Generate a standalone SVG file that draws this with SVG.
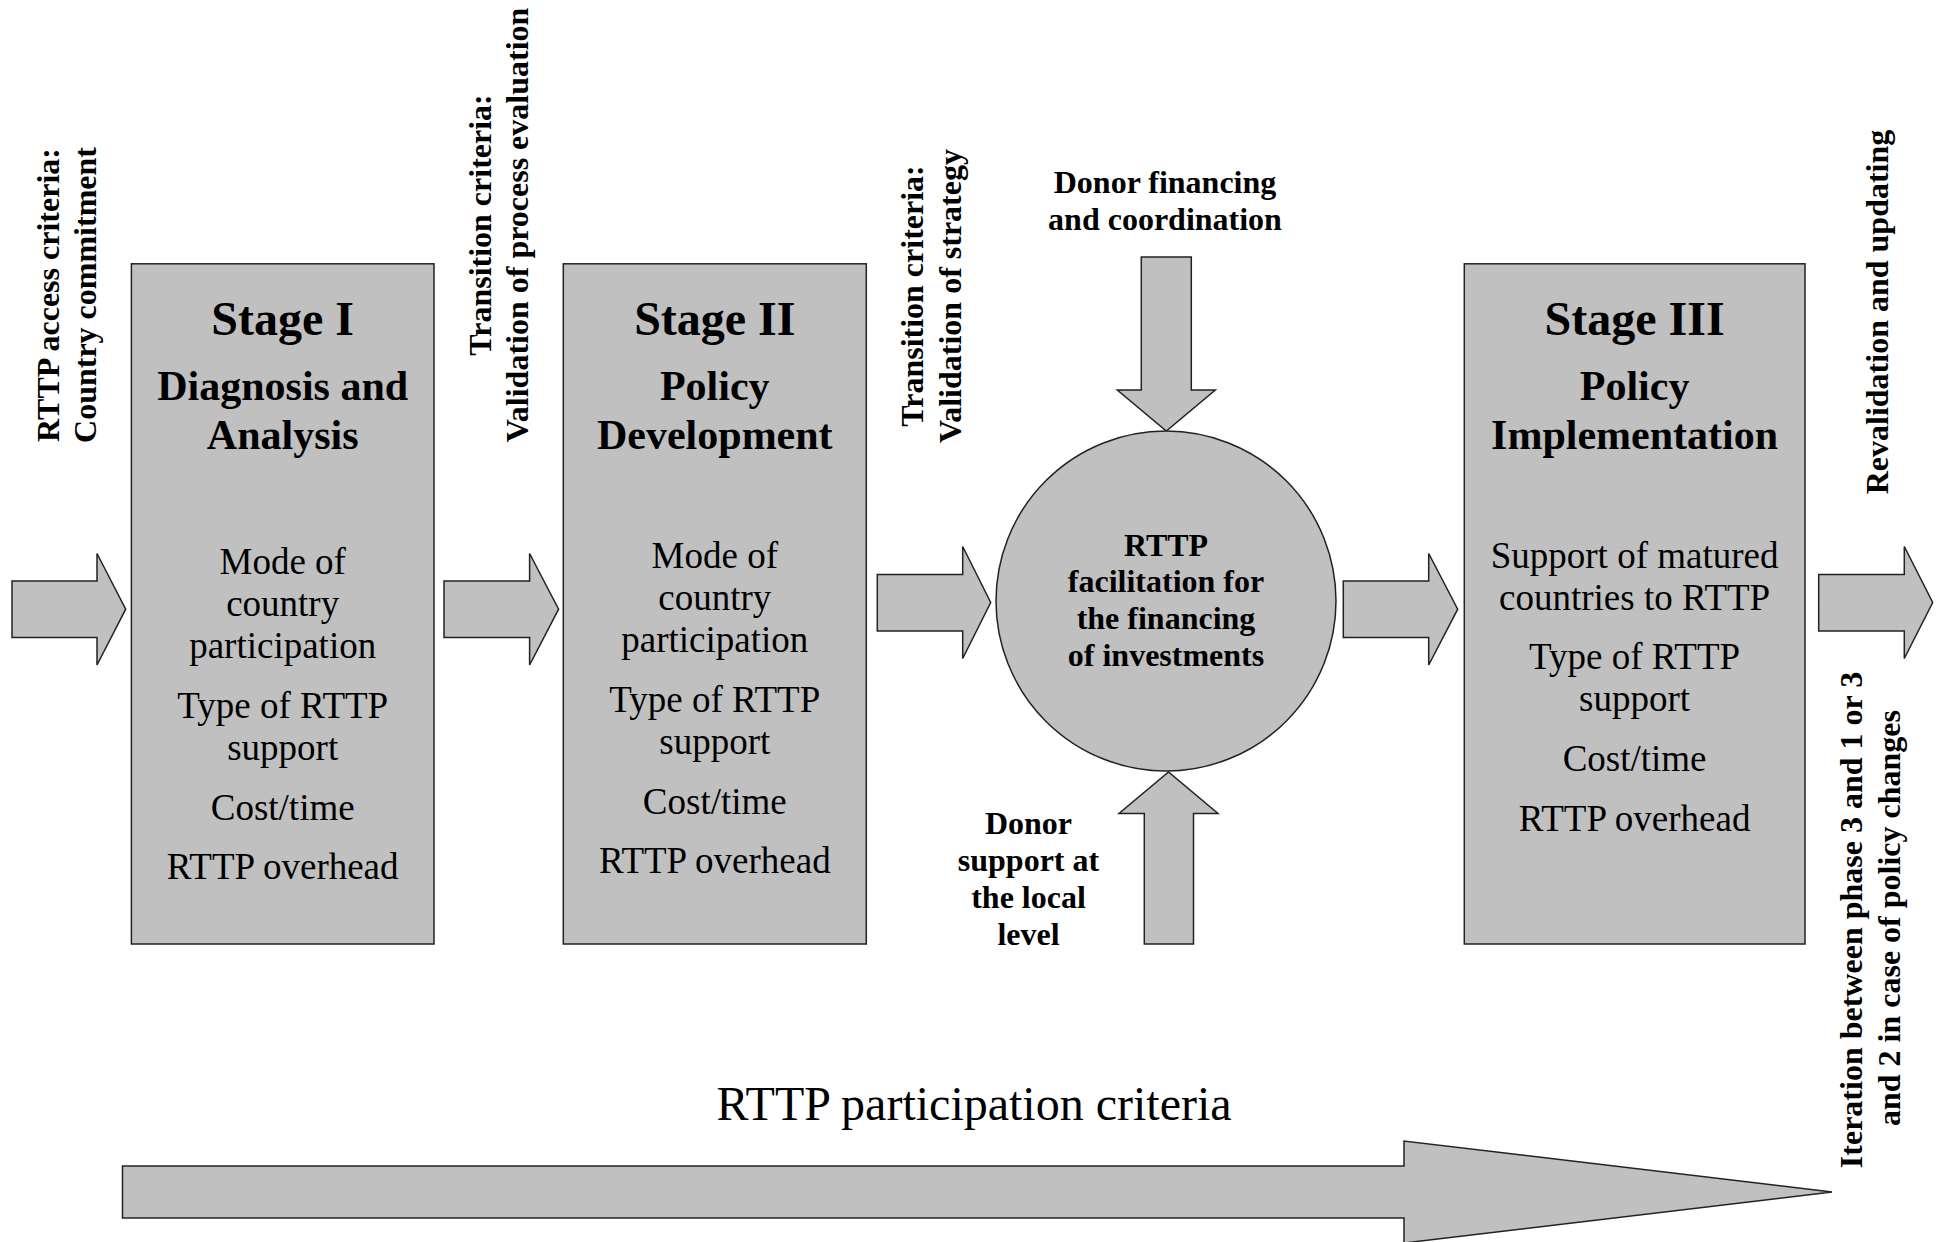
<svg xmlns="http://www.w3.org/2000/svg" width="1942" height="1242" viewBox="0 0 1942 1242">
<style>
.shape{fill:#c0c0c0;stroke:#222;stroke-width:1.5}
.t{font-family:"Liberation Serif","Times New Roman",serif;fill:#000;text-anchor:middle}
.st{font-size:48px;font-weight:bold}
.sub{font-size:42px;font-weight:bold}
.body{font-size:37px}
.lab{font-size:32px;font-weight:bold}
.big{font-size:48px}
</style>
<rect width="1942" height="1242" fill="#fff"/>
<g id="connectors">
<polygon class="shape" points="12,581 97,581 97,553.5 125.7,609.2 97,665 97,637.5 12,637.5"/>
<polygon class="shape" points="444,581 529.6,581 529.6,553.5 558.6,609.2 529.6,665 529.6,637.5 444,637.5"/>
<polygon class="shape" points="877.3,574.5 962.7,574.5 962.7,546.5 990.7,602.5 962.7,658.5 962.7,631 877.3,631"/>
<polygon class="shape" points="1343.3,581 1428.7,581 1428.7,553.5 1457.7,609.2 1428.7,665 1428.7,637.5 1343.3,637.5"/>
<polygon class="shape" points="1818.7,574.5 1904.3,574.5 1904.3,546.5 1932.7,602.5 1904.3,658.5 1904.3,631 1818.7,631"/>
<polygon class="shape" points="1141.3,257 1191.3,257 1191.3,390 1215.3,390 1166.3,431 1117.3,390 1141.3,390"/>
<polygon class="shape" points="1144.3,944 1193.5,944 1193.5,813.5 1218,813.5 1168.5,772 1119,813.5 1144.3,813.5"/>
<polygon class="shape" points="122.5,1166 1404,1166 1404,1141 1832,1192 1404,1243 1404,1218 122.5,1218"/>
</g>
<g id="stage1">
<rect class="shape" x="131.4" y="263.8" width="302.6" height="680.2"/>
<text class="t st" x="282.7" y="335">Stage I</text>
<text class="t sub" x="282.7" y="400">Diagnosis and</text>
<text class="t sub" x="282.7" y="449">Analysis</text>
<text class="t body" x="282.7" y="574">Mode of</text>
<text class="t body" x="282.7" y="616">country</text>
<text class="t body" x="282.7" y="658">participation</text>
<text class="t body" x="282.7" y="718">Type of RTTP</text>
<text class="t body" x="282.7" y="760">support</text>
<text class="t body" x="282.7" y="820">Cost/time</text>
<text class="t body" x="282.7" y="879">RTTP overhead</text>
</g>
<g id="stage2">
<rect class="shape" x="563.3" y="263.8" width="303" height="680.2"/>
<text class="t st" x="714.8" y="335">Stage II</text>
<text class="t sub" x="714.8" y="400">Policy</text>
<text class="t sub" x="714.8" y="449">Development</text>
<text class="t body" x="714.8" y="568">Mode of</text>
<text class="t body" x="714.8" y="610">country</text>
<text class="t body" x="714.8" y="652">participation</text>
<text class="t body" x="714.8" y="712">Type of RTTP</text>
<text class="t body" x="714.8" y="754">support</text>
<text class="t body" x="714.8" y="814">Cost/time</text>
<text class="t body" x="714.8" y="873">RTTP overhead</text>
</g>
<g id="facilitation">
<circle class="shape" cx="1166" cy="601" r="170"/>
<text class="t lab" x="1166" y="556">RTTP</text>
<text class="t lab" x="1166" y="592">facilitation for</text>
<text class="t lab" x="1166" y="629">the financing</text>
<text class="t lab" x="1166" y="666">of investments</text>
</g>
<g id="stage3">
<rect class="shape" x="1464.3" y="263.8" width="340.7" height="680.2"/>
<text class="t st" x="1634.6" y="335">Stage III</text>
<text class="t sub" x="1634.6" y="400">Policy</text>
<text class="t sub" x="1634.6" y="449">Implementation</text>
<text class="t body" x="1634.6" y="568">Support of matured</text>
<text class="t body" x="1634.6" y="610">countries to RTTP</text>
<text class="t body" x="1634.6" y="669">Type of RTTP</text>
<text class="t body" x="1634.6" y="711">support</text>
<text class="t body" x="1634.6" y="771">Cost/time</text>
<text class="t body" x="1634.6" y="831">RTTP overhead</text>
</g>
<g id="donor-financing">
<text class="t lab" x="1165" y="193">Donor financing</text>
<text class="t lab" x="1165" y="230">and coordination</text>
</g>
<g id="donor-local">
<text class="t lab" x="1028.5" y="834">Donor</text>
<text class="t lab" x="1028.5" y="871">support at</text>
<text class="t lab" x="1028.5" y="908">the local</text>
<text class="t lab" x="1028.5" y="945">level</text>
</g>
<g id="labels">
<text class="t lab" transform="translate(59,295) rotate(-90)">RTTP access criteria:</text>
<text class="t lab" transform="translate(96,295) rotate(-90)">Country commitment</text>
<text class="t lab" transform="translate(491,225) rotate(-90)">Transition criteria:</text>
<text class="t lab" transform="translate(528,225) rotate(-90)">Validation of process evaluation</text>
<text class="t lab" transform="translate(923,296) rotate(-90)">Transition criteria:</text>
<text class="t lab" transform="translate(961,296) rotate(-90)">Validation of strategy</text>
<text class="t lab" transform="translate(1888,312) rotate(-90)">Revalidation and updating</text>
<text class="t lab" transform="translate(1862,920) rotate(-90)">Iteration between phase 3 and 1 or 3</text>
<text class="t lab" transform="translate(1900,918) rotate(-90)">and 2 in case of policy changes</text>
<text class="t big" x="974" y="1120">RTTP participation criteria</text>
</g>
</svg>
